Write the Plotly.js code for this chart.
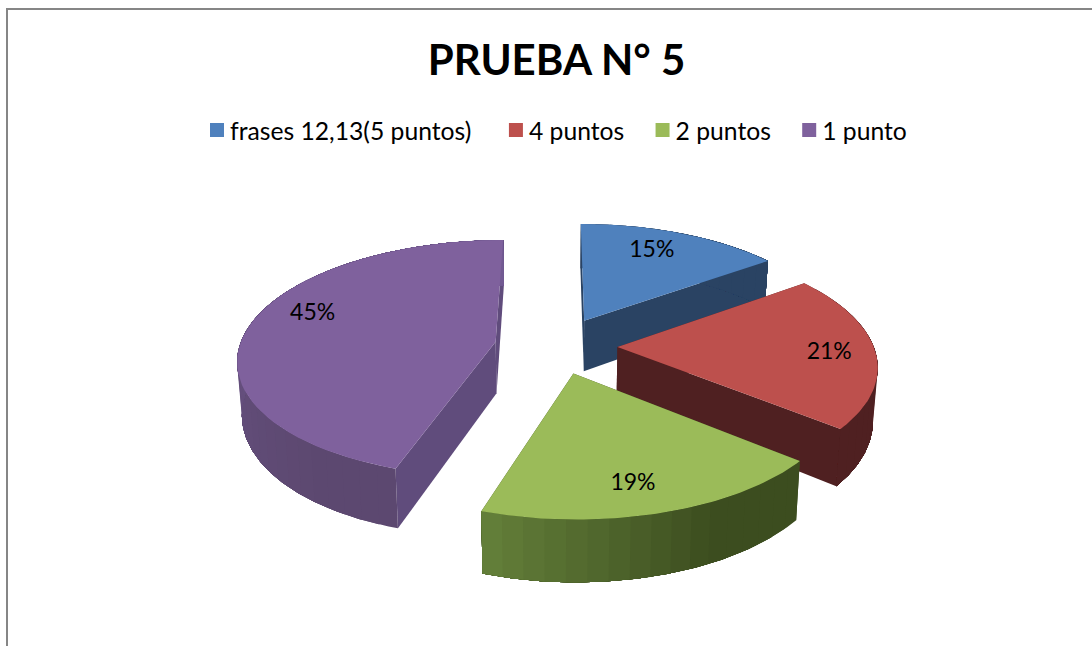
<!DOCTYPE html>
<html><head><meta charset="utf-8">
<script src="https://cdn.plot.ly/plotly-3.0.1.min.js"></script>
<style>html,body{margin:0;padding:0;background:#fff}#c{width:1092px;height:646px}</style>
</head><body><div id="c"></div>
<script>
const titleText = "PRUEBA N° 5";
const categories = ["frases 12,13(5 puntos)", "4 puntos", "2 puntos", "1 punto"];
const percents = [15, 21, 19, 45];

const topColors = ["#4f81bd", "#bd504d", "#9bbb59", "#7f619d"];
const radialColors = ["#2a4363", "#4f2021", "#3e4f20", "#604c7c"];
const arcStartColors = [[42,67,99], [79,32,33], [60,77,31], [92,72,112]];
const arcEndColors = [[42,67,99], [79,32,33], [100,128,58], [114,90,146]];
const arcDarkShare = [0, 0, 0.35, 0.1];
const paintOrder = [0, 3, 1, 2];
const explodeBy = [0.25, 0.24, 0.236, 0.24];
const labelRadius = [0.76, 0.82, 0.81, 0.79];
const labelTurn = [-3, 2, 2.5, 9];
const legendPadding = ["\u00A0\u00A0", "\u00A0", "\u00A0", ""];

// oblique perspective used for the tilted, exploded pie
const view = {cx: 556, cy: 346, R: 256, A: 117, p: 0.141, D: 52, shrink: 0.985};
function project(X, Y, low) {
  const s = 1 / (1 - view.p * Y);
  const k = low ? view.shrink : 1;
  return [view.cx + view.R * X * s * k, view.cy + view.A * Y * s + (low ? view.D * s : 0)];
}
const rad = d => d * Math.PI / 180;
const total = percents.reduce((a, b) => a + b, 0);
let acc = 0;
const slices = percents.map((v, i) => {
  const a0 = acc / total * 360; acc += v;
  const a1 = acc / total * 360;
  const mid = (a0 + a1) / 2;
  return {a0, a1, mid, ex: explodeBy[i] * Math.sin(rad(mid)), ey: -explodeBy[i] * Math.cos(rad(mid))};
});
function ground(sl, ang, r) {
  return [sl.ex + r * Math.sin(rad(ang)), sl.ey - r * Math.cos(rad(ang))];
}
function poly(points, color) {
  return {type: "scatter", mode: "lines", x: points.map(p => p[0]), y: points.map(p => p[1]),
    fill: "toself", fillcolor: color, line: {color: color, width: 0},
    showlegend: false, hoverinfo: "skip"};
}
const traces = [];
paintOrder.forEach(i => {
  const sl = slices[i];
  const apex = ground(sl, 0, 0);
  [sl.a0, sl.a1].forEach(a => {
    const g = ground(sl, a, 1);
    traces.push(poly([project(apex[0], apex[1], false), project(g[0], g[1], false),
                      project(g[0], g[1], true), project(apex[0], apex[1], true)], radialColors[i]));
  });
  const bands = Math.max(4, Math.round((sl.a1 - sl.a0) / 4));
  for (let b = 0; b < bands; b++) {
    // each band runs on to the end of the arc, so later bands paint over it and no seams show
    const pts = [], pb = [];
    const qs = 6 * (bands - b);
    for (let q = 0; q <= qs; q++) {
      const a = sl.a0 + (sl.a1 - sl.a0) * (b + q / 6) / bands;
      const g = ground(sl, a, 1);
      pts.push(project(g[0], g[1], false)); pb.unshift(project(g[0], g[1], true));
    }
    const raw = (b + 0.5) / bands;
    const t = Math.max(0, (raw - arcDarkShare[i]) / (1 - arcDarkShare[i]));
    const c = arcStartColors[i].map((v, n) => Math.round(v + (arcEndColors[i][n] - v) * t));
    traces.push(poly(pts.concat(pb), `rgb(${c.join(",")})`));
  }
  const topPts = [project(apex[0], apex[1], false)];
  for (let q = 0; q <= 60; q++) {
    const g = ground(sl, sl.a0 + (sl.a1 - sl.a0) * q / 60, 1);
    topPts.push(project(g[0], g[1], false));
  }
  traces.push(poly(topPts, topColors[i]));
});
const labelPts = slices.map((sl, i) => {
  const g = ground(sl, sl.mid + labelTurn[i], labelRadius[i]);
  return project(g[0], g[1], false);
});
traces.push({type: "scatter", mode: "text", x: labelPts.map(p => p[0]), y: labelPts.map(p => p[1]),
  text: percents.map(v => v + "%"), textposition: "middle center",
  textfont: {family: "Lato, sans-serif", size: 23, color: "#000"}, showlegend: false, hoverinfo: "skip"});
categories.forEach((name, i) => traces.push({type: "scatter", mode: "markers", name: name + legendPadding[i],
  x: [null], y: [null], marker: {symbol: "square", size: 14, color: topColors[i]}}));

const layout = {
  width: 1092, height: 646, margin: {l: 0, r: 0, t: 0, b: 0},
  paper_bgcolor: "#fff", plot_bgcolor: "#fff",
  title: {text: titleText, x: 0.5096, xanchor: "center", y: 0.906, yanchor: "middle",
    font: {family: "Lato, sans-serif", size: 42, color: "#000", weight: 700}},
  xaxis: {range: [0, 1092], visible: false, fixedrange: true},
  yaxis: {range: [646, 0], visible: false, fixedrange: true},
  showlegend: true,
  legend: {orientation: "h", x: 190 / 1092, xanchor: "left", y: 0.798, yanchor: "middle",
    font: {family: "Lato, sans-serif", size: 24.7, color: "#000"}, bgcolor: "rgba(0,0,0,0)"},
  shapes: [
    {type: "line", xref: "paper", yref: "paper", x0: 7 / 1092, x1: 1, y0: 1 - 9 / 646, y1: 1 - 9 / 646, line: {color: "#868686", width: 2}},
    {type: "line", xref: "paper", yref: "paper", x0: 7 / 1092, x1: 7 / 1092, y0: 1 - 8 / 646, y1: 0, line: {color: "#868686", width: 2}}
  ]
};
Plotly.newPlot("c", traces, layout, {displayModeBar: false, staticPlot: true}).then(() => {
  // legend swatches sit closer to their labels in the reference
  document.querySelectorAll(".legend .legendsymbols").forEach(g => g.setAttribute("transform", "translate(7,0)"));
});
</script></body></html>
